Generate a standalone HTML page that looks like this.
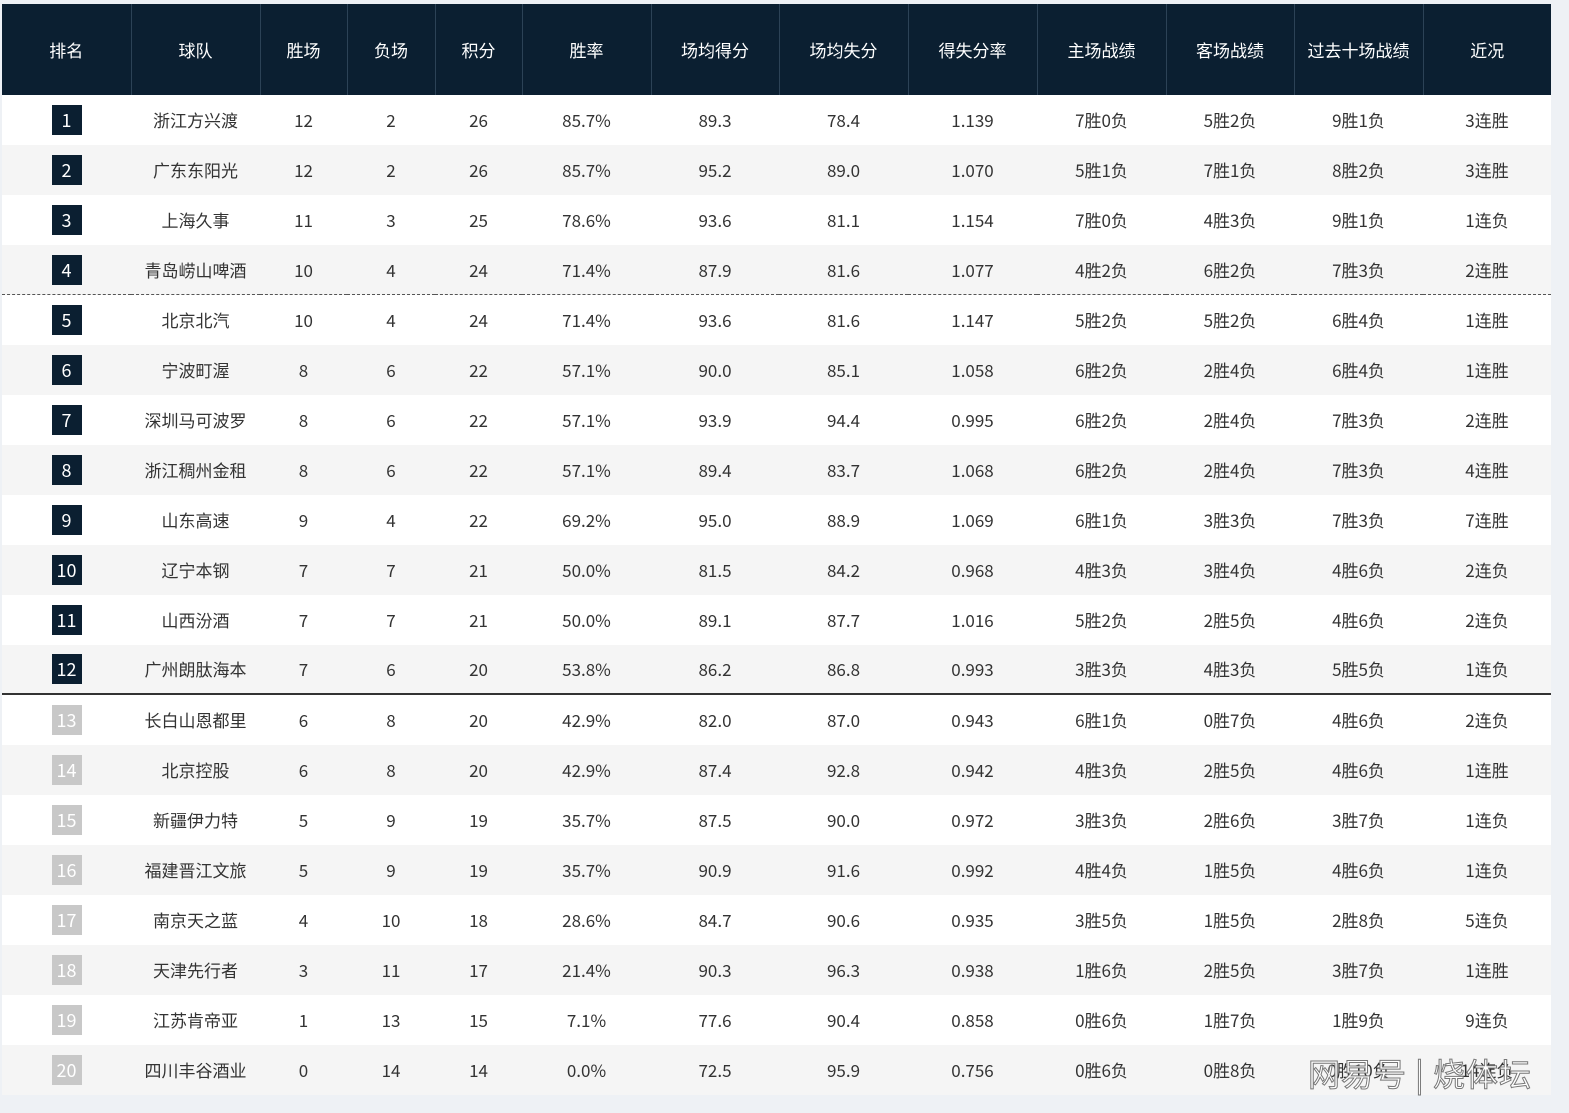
<!DOCTYPE html>
<html><head><meta charset="utf-8"><style>
body{margin:0;background:#eef1f5;width:1569px;height:1113px;overflow:hidden;font-family:"Noto Sans CJK SC","Liberation Sans",sans-serif;}
table{position:absolute;left:2px;top:4px;border-collapse:collapse;table-layout:fixed;width:1549px;}
th{background:#0b1f31;color:#fff;font-weight:normal;font-size:17px;height:91px;border-left:1px solid #2c4256;padding:0}
th:first-child{border-left:none}
td{height:50px;padding:0;text-align:center;font-size:17px;color:#333;line-height:20px}
tr:nth-child(odd) td{background:#fff}
tr:nth-child(even) td{background:#f5f5f5}
.r{display:inline-block;width:30px;height:30px;line-height:30px;background:#0b1f31;color:#fff;font-size:18px;vertical-align:middle}
.g{background:#c8c8c8}
tr.dash td{border-bottom:1px dashed #555;height:49px}
tr.solid td{border-bottom:2px solid #333;height:48px}
.wm{position:absolute;left:1308px;top:1050px;font-size:32px;color:#fff;-webkit-text-stroke:1px #777;letter-spacing:1px}
</style></head><body>
<table>
<colgroup><col style="width:129px"><col style="width:129px"><col style="width:87px"><col style="width:88px"><col style="width:87px"><col style="width:129px"><col style="width:128px"><col style="width:129px"><col style="width:129px"><col style="width:129px"><col style="width:128px"><col style="width:129px"><col style="width:128px"></colgroup>
<thead><tr><th>排名</th><th>球队</th><th>胜场</th><th>负场</th><th>积分</th><th>胜率</th><th>场均得分</th><th>场均失分</th><th>得失分率</th><th>主场战绩</th><th>客场战绩</th><th>过去十场战绩</th><th>近况</th></tr></thead>
<tbody>
<tr><td><span class="r">1</span></td><td>浙江方兴渡</td><td>12</td><td>2</td><td>26</td><td>85.7%</td><td>89.3</td><td>78.4</td><td>1.139</td><td>7胜0负</td><td>5胜2负</td><td>9胜1负</td><td>3连胜</td></tr>
<tr><td><span class="r">2</span></td><td>广东东阳光</td><td>12</td><td>2</td><td>26</td><td>85.7%</td><td>95.2</td><td>89.0</td><td>1.070</td><td>5胜1负</td><td>7胜1负</td><td>8胜2负</td><td>3连胜</td></tr>
<tr><td><span class="r">3</span></td><td>上海久事</td><td>11</td><td>3</td><td>25</td><td>78.6%</td><td>93.6</td><td>81.1</td><td>1.154</td><td>7胜0负</td><td>4胜3负</td><td>9胜1负</td><td>1连负</td></tr>
<tr class="dash"><td><span class="r">4</span></td><td>青岛崂山啤酒</td><td>10</td><td>4</td><td>24</td><td>71.4%</td><td>87.9</td><td>81.6</td><td>1.077</td><td>4胜2负</td><td>6胜2负</td><td>7胜3负</td><td>2连胜</td></tr>
<tr><td><span class="r">5</span></td><td>北京北汽</td><td>10</td><td>4</td><td>24</td><td>71.4%</td><td>93.6</td><td>81.6</td><td>1.147</td><td>5胜2负</td><td>5胜2负</td><td>6胜4负</td><td>1连胜</td></tr>
<tr><td><span class="r">6</span></td><td>宁波町渥</td><td>8</td><td>6</td><td>22</td><td>57.1%</td><td>90.0</td><td>85.1</td><td>1.058</td><td>6胜2负</td><td>2胜4负</td><td>6胜4负</td><td>1连胜</td></tr>
<tr><td><span class="r">7</span></td><td>深圳马可波罗</td><td>8</td><td>6</td><td>22</td><td>57.1%</td><td>93.9</td><td>94.4</td><td>0.995</td><td>6胜2负</td><td>2胜4负</td><td>7胜3负</td><td>2连胜</td></tr>
<tr><td><span class="r">8</span></td><td>浙江稠州金租</td><td>8</td><td>6</td><td>22</td><td>57.1%</td><td>89.4</td><td>83.7</td><td>1.068</td><td>6胜2负</td><td>2胜4负</td><td>7胜3负</td><td>4连胜</td></tr>
<tr><td><span class="r">9</span></td><td>山东高速</td><td>9</td><td>4</td><td>22</td><td>69.2%</td><td>95.0</td><td>88.9</td><td>1.069</td><td>6胜1负</td><td>3胜3负</td><td>7胜3负</td><td>7连胜</td></tr>
<tr><td><span class="r">10</span></td><td>辽宁本钢</td><td>7</td><td>7</td><td>21</td><td>50.0%</td><td>81.5</td><td>84.2</td><td>0.968</td><td>4胜3负</td><td>3胜4负</td><td>4胜6负</td><td>2连负</td></tr>
<tr><td><span class="r">11</span></td><td>山西汾酒</td><td>7</td><td>7</td><td>21</td><td>50.0%</td><td>89.1</td><td>87.7</td><td>1.016</td><td>5胜2负</td><td>2胜5负</td><td>4胜6负</td><td>2连负</td></tr>
<tr class="solid"><td><span class="r">12</span></td><td>广州朗肽海本</td><td>7</td><td>6</td><td>20</td><td>53.8%</td><td>86.2</td><td>86.8</td><td>0.993</td><td>3胜3负</td><td>4胜3负</td><td>5胜5负</td><td>1连负</td></tr>
<tr><td><span class="r g">13</span></td><td>长白山恩都里</td><td>6</td><td>8</td><td>20</td><td>42.9%</td><td>82.0</td><td>87.0</td><td>0.943</td><td>6胜1负</td><td>0胜7负</td><td>4胜6负</td><td>2连负</td></tr>
<tr><td><span class="r g">14</span></td><td>北京控股</td><td>6</td><td>8</td><td>20</td><td>42.9%</td><td>87.4</td><td>92.8</td><td>0.942</td><td>4胜3负</td><td>2胜5负</td><td>4胜6负</td><td>1连胜</td></tr>
<tr><td><span class="r g">15</span></td><td>新疆伊力特</td><td>5</td><td>9</td><td>19</td><td>35.7%</td><td>87.5</td><td>90.0</td><td>0.972</td><td>3胜3负</td><td>2胜6负</td><td>3胜7负</td><td>1连负</td></tr>
<tr><td><span class="r g">16</span></td><td>福建晋江文旅</td><td>5</td><td>9</td><td>19</td><td>35.7%</td><td>90.9</td><td>91.6</td><td>0.992</td><td>4胜4负</td><td>1胜5负</td><td>4胜6负</td><td>1连负</td></tr>
<tr><td><span class="r g">17</span></td><td>南京天之蓝</td><td>4</td><td>10</td><td>18</td><td>28.6%</td><td>84.7</td><td>90.6</td><td>0.935</td><td>3胜5负</td><td>1胜5负</td><td>2胜8负</td><td>5连负</td></tr>
<tr><td><span class="r g">18</span></td><td>天津先行者</td><td>3</td><td>11</td><td>17</td><td>21.4%</td><td>90.3</td><td>96.3</td><td>0.938</td><td>1胜6负</td><td>2胜5负</td><td>3胜7负</td><td>1连胜</td></tr>
<tr><td><span class="r g">19</span></td><td>江苏肯帝亚</td><td>1</td><td>13</td><td>15</td><td>7.1%</td><td>77.6</td><td>90.4</td><td>0.858</td><td>0胜6负</td><td>1胜7负</td><td>1胜9负</td><td>9连负</td></tr>
<tr><td><span class="r g">20</span></td><td>四川丰谷酒业</td><td>0</td><td>14</td><td>14</td><td>0.0%</td><td>72.5</td><td>95.9</td><td>0.756</td><td>0胜6负</td><td>0胜8负</td><td>0胜10负</td><td>14连负</td></tr>
</tbody></table>
<div class="wm">网易号 | 烧体坛</div>
</body></html>
